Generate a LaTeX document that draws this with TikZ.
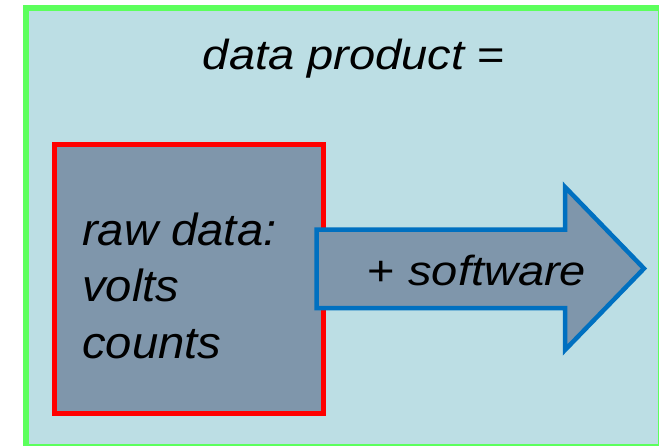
\documentclass[tikz,border=0pt]{standalone}
\usepackage{fontspec}
\setmainfont{Liberation Sans}
\definecolor{paneblue}{RGB}{188,222,228}
\definecolor{panegreen}{RGB}{92,255,92}
\definecolor{slate}{RGB}{127,150,171}
\definecolor{arrowblue}{RGB}{0,112,192}
\tikzset{
  panebox/.style={draw=panegreen,fill=paneblue,line width=6pt},
  rawbox/.style={draw=red,fill=slate,line width=5pt,inner sep=0pt},
  arrowbox/.style={draw=arrowblue,fill=slate,line width=4.5pt,line join=miter},
  bigtext/.style={inner sep=0pt,font=\fontsize{42}{42}\selectfont\itshape,xscale=1.12}
}
\begin{document}
\begin{tikzpicture}[x=1pt,y=-1pt]
			% data product diagram
			\clip (0,0) rectangle (659,445);
			\draw[panebox] (26,8) rectangle (661,447);
			\node[rawbox,minimum width=269pt,minimum height=269pt] (RawData) at (189,279) {};
			\draw[arrowbox] (316.5,229.5) -- (565,229.5) -- (565,187) -- (644,268.5) -- (565,350) -- (565,308) -- (316.5,308) -- cycle;
			
			\node[bigtext,anchor=base] (Title) at (354,69) {data product {\upshape =}};
			\node[bigtext,anchor=base] (Software) at (477,285) {{\upshape +} software};
			\node[inner sep=0pt,anchor=base west,align=left,xscale=1.05,font=\fontsize{45}{56.5}\selectfont\itshape] (RawText) at (82,358) {raw data:\\volts\\counts};
			\end{tikzpicture}
\end{document}
